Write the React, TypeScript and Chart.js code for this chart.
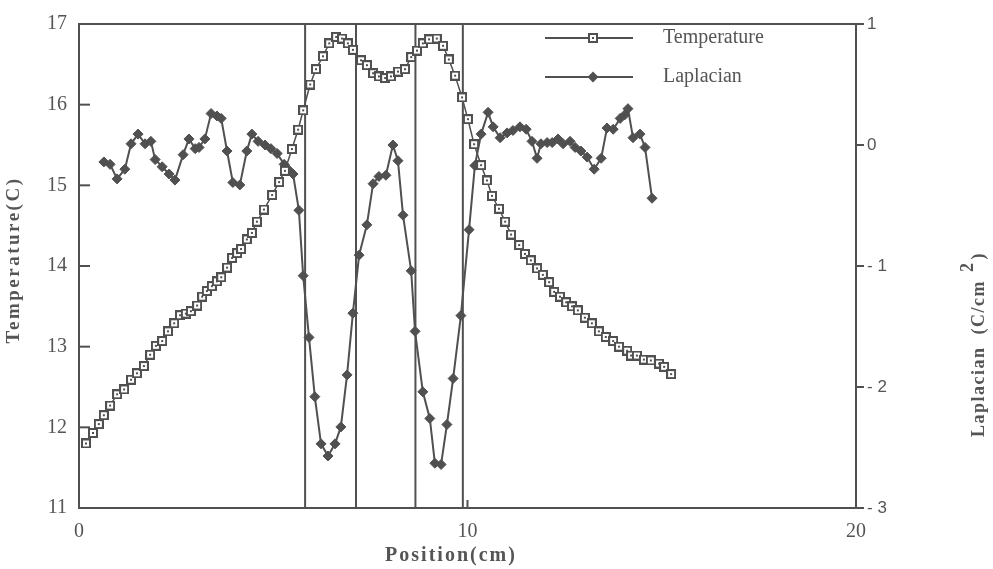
import { useEffect, useRef } from "react";
import { Chart, registerables } from "chart.js";

Chart.register(...registerables);

// ---- data ----
const tempX = [
  0.18, 0.36, 0.51, 0.64, 0.8, 0.98, 1.16, 1.34, 1.49, 1.67,
  1.83, 1.98, 2.14, 2.29, 2.45, 2.6, 2.75, 2.88, 3.04, 3.17,
  3.29, 3.42, 3.55, 3.66, 3.81, 3.94, 4.07, 4.17, 4.32, 4.45,
  4.58, 4.76, 4.97, 5.15, 5.3, 5.48, 5.64, 5.77, 5.95, 6.1,
  6.28, 6.44, 6.62, 6.77, 6.92, 7.05, 7.26, 7.41, 7.57, 7.72,
  7.88, 8.03, 8.21, 8.39, 8.55, 8.7, 8.85, 9.01, 9.21, 9.37,
  9.52, 9.68, 9.86, 10.01, 10.17, 10.35, 10.5, 10.63, 10.81, 10.97,
  11.12, 11.33, 11.48, 11.63, 11.79, 11.94, 12.1, 12.23, 12.38, 12.54,
  12.69, 12.84, 13.02, 13.2, 13.38, 13.56, 13.75, 13.9, 14.11, 14.21,
  14.36, 14.54, 14.72, 14.93, 15.06, 15.24,
];
const tempY = [
  11.8, 11.93, 12.04, 12.15, 12.27, 12.41, 12.47, 12.59, 12.67, 12.76,
  12.9, 13.01, 13.07, 13.19, 13.29, 13.39, 13.41, 13.44, 13.51, 13.62,
  13.69, 13.75, 13.81, 13.86, 13.98, 14.1, 14.16, 14.21, 14.33, 14.41,
  14.55, 14.7, 14.88, 15.04, 15.18, 15.45, 15.69, 15.93, 16.25, 16.44,
  16.6, 16.76, 16.84, 16.82, 16.76, 16.68, 16.55, 16.49, 16.39, 16.35,
  16.33, 16.35, 16.41, 16.44, 16.59, 16.67, 16.76, 16.81, 16.82, 16.73,
  16.56, 16.36, 16.09, 15.82, 15.51, 15.25, 15.06, 14.87, 14.71, 14.55,
  14.39, 14.26, 14.15, 14.07, 13.97, 13.89, 13.8, 13.68, 13.62, 13.55,
  13.5, 13.45, 13.36, 13.29, 13.19, 13.12, 13.07, 13.0, 12.95, 12.89,
  12.89, 12.84, 12.83, 12.79, 12.75, 12.66,
];
const lapX = [
  0.64, 0.8, 0.98, 1.18, 1.34, 1.52, 1.7, 1.85, 1.96, 2.14,
  2.32, 2.47, 2.68, 2.83, 2.99, 3.09, 3.24, 3.4, 3.55, 3.66,
  3.81, 3.96, 4.14, 4.32, 4.45, 4.61, 4.79, 4.94, 5.1, 5.28,
  5.38, 5.51, 5.66, 5.77, 5.92, 6.07, 6.23, 6.41, 6.59, 6.74,
  6.9, 7.05, 7.21, 7.41, 7.57, 7.72, 7.9, 8.08, 8.21, 8.34,
  8.55, 8.65, 8.85, 9.03, 9.16, 9.32, 9.47, 9.63, 9.83, 10.04,
  10.19, 10.35, 10.53, 10.66, 10.84, 11.02, 11.17, 11.35, 11.51, 11.66,
  11.79, 11.89, 12.05, 12.18, 12.33, 12.46, 12.64, 12.77, 12.92, 13.08,
  13.26, 13.44, 13.59, 13.75, 13.93, 14.05, 14.13, 14.26, 14.44, 14.57,
  14.75,
];
const lapY = [
  -0.14, -0.16, -0.28, -0.2, 0.01, 0.09, 0.01, 0.03, -0.12, -0.18,
  -0.24, -0.29, -0.08, 0.05, -0.03, -0.02, 0.05, 0.26, 0.24, 0.22,
  -0.05, -0.31, -0.33, -0.05, 0.09, 0.03, 0.0, -0.03, -0.07, -0.16,
  -0.2, -0.24, -0.54, -1.08, -1.59, -2.08, -2.47, -2.57, -2.47, -2.33,
  -1.9, -1.39, -0.91, -0.66, -0.32, -0.26, -0.25, 0.0, -0.13, -0.58,
  -1.04, -1.54, -2.04, -2.26, -2.63, -2.64, -2.31, -1.93, -1.41, -0.7,
  -0.17, 0.09, 0.27, 0.15, 0.06, 0.1, 0.12, 0.15, 0.13, 0.03,
  -0.11, 0.01, 0.02, 0.02, 0.05, 0.01, 0.03, -0.02, -0.05, -0.1,
  -0.2, -0.11, 0.14, 0.13, 0.22, 0.25, 0.3, 0.06, 0.09, -0.02,
  -0.44,
];
const dividerX = [5.82, 7.13, 8.66, 9.88];
const xTicks = [0, 10, 20];
const tempTicks = [11, 12, 13, 14, 15, 16, 17];
const lapTicks = [-3, -2, -1, 0, 1];
const legendLabels = ["Temperature", "Laplacian"];
const xTitle = "Position(cm)";
const yTitle = "Temperature(C)";
const y2TitleMain = "Laplacian  (C/cm";
const y2TitleSup = "2";
const y2TitleEnd = ")";

const INK = "#505050";
const TEXT = "#555555";

function makeSquareMarker(): HTMLCanvasElement {
  const m = document.createElement("canvas");
  m.width = 10;
  m.height = 10;
  const c = m.getContext("2d")!;
  c.fillStyle = "#ffffff";
  c.fillRect(1, 1, 8, 8);
  c.strokeStyle = INK;
  c.lineWidth = 2;
  c.strokeRect(1, 1, 8, 8);
  c.fillStyle = INK;
  c.fillRect(4, 4, 2, 2);
  return m;
}

export default function App() {
  const ref = useRef<HTMLCanvasElement | null>(null);

  useEffect(() => {
    document.body.style.margin = "0";
    const canvas = ref.current;
    if (!canvas) return;
    const marker = makeSquareMarker();

    const decor = {
      id: "decor",
      afterDraw(chart: any) {
        const { ctx, chartArea: a, scales } = chart;
        ctx.save();
        ctx.strokeStyle = INK;
        ctx.lineWidth = 2;
        ctx.strokeRect(a.left, a.top, a.right - a.left, a.bottom - a.top);
        const line = (x1: number, y1: number, x2: number, y2: number) => {
          ctx.beginPath();
          ctx.moveTo(x1, y1);
          ctx.lineTo(x2, y2);
          ctx.stroke();
        };
        for (const v of tempTicks) {
          const y = scales.y.getPixelForValue(v);
          line(a.left, y, a.left + 11, y);
        }
        for (const v of lapTicks) {
          const y = scales.y1.getPixelForValue(v);
          line(a.right, y, a.right + 8, y);
        }
        for (const v of xTicks) {
          const x = scales.x.getPixelForValue(v);
          line(x, a.bottom, x, a.bottom - 8);
        }

        // legend
        const lx1 = 545, lx2 = 633, lm = 593, tx = 663;
        const ly = [38, 77];
        ctx.lineWidth = 2;
        line(lx1, ly[0], lx2, ly[0]);
        ctx.drawImage(marker, lm - 5, ly[0] - 5);
        line(lx1, ly[1], lx2, ly[1]);
        ctx.fillStyle = INK;
        ctx.beginPath();
        ctx.moveTo(lm, ly[1] - 5.5);
        ctx.lineTo(lm + 5.5, ly[1]);
        ctx.lineTo(lm, ly[1] + 5.5);
        ctx.lineTo(lm - 5.5, ly[1]);
        ctx.closePath();
        ctx.fill();
        ctx.fillStyle = TEXT;
        ctx.font = "20px 'Liberation Serif'";
        ctx.textAlign = "left";
        ctx.textBaseline = "middle";
        ctx.fillText(legendLabels[0], tx, ly[0]);
        ctx.fillText(legendLabels[1], tx, ly[1]);

        // axis titles
        ctx.fillStyle = TEXT;
        ctx.textAlign = "center";
        ctx.textBaseline = "middle";
        (ctx as any).letterSpacing = "2px";
        ctx.font = "bold 20px 'Liberation Serif'";
        ctx.fillText(xTitle, 451, 556);

        ctx.save();
        ctx.translate(14, 260);
        ctx.rotate(-Math.PI / 2);
        (ctx as any).letterSpacing = "2.5px";
        ctx.font = "bold 19px 'Liberation Serif'";
        ctx.fillText(yTitle, 0, 0);
        ctx.restore();

        ctx.save();
        ctx.translate(984, 437);
        ctx.rotate(-Math.PI / 2);
        (ctx as any).letterSpacing = "1.5px";
        ctx.font = "bold 18px 'Liberation Serif'";
        ctx.textAlign = "left";
        ctx.textBaseline = "alphabetic";
        ctx.fillText(y2TitleMain, 0, 0);
        let w = ctx.measureText(y2TitleMain).width + 8;
        ctx.fillText(y2TitleSup, w, -11);
        w += ctx.measureText(y2TitleSup).width + 2;
        ctx.fillText(y2TitleEnd, w, 0);
        ctx.restore();

        ctx.restore();
      },
    };

    const dividerSets = dividerX.map((d) => ({
      label: "",
      data: [
        { x: d, y: tempTicks[0] },
        { x: d, y: tempTicks[tempTicks.length - 1] },
      ],
      borderColor: INK,
      borderWidth: 2,
      pointRadius: 0,
      yAxisID: "y",
    }));

    const chart = new Chart(canvas, {
      type: "line",
      data: {
        datasets: [
          {
            label: legendLabels[0],
            data: tempX.map((x, i) => ({ x, y: tempY[i] })),
            borderColor: INK,
            borderWidth: 1.5,
            pointStyle: marker as any,
            pointRadius: 5,
            yAxisID: "y",
          },
          {
            label: legendLabels[1],
            data: lapX.map((x, i) => ({ x, y: lapY[i] })),
            borderColor: INK,
            backgroundColor: INK,
            borderWidth: 2,
            pointStyle: "rectRot",
            pointRadius: 5,
            pointBorderWidth: 1,
            yAxisID: "y1",
          },
          ...dividerSets,
        ] as any,
      },
      options: {
        animation: false,
        responsive: false,
        events: [],
        layout: { padding: { top: 13, left: 0, right: 0, bottom: 0 } },
        plugins: { legend: { display: false }, tooltip: { enabled: false } },
        scales: {
          x: {
            type: "linear",
            min: 0,
            max: 20,
            grid: { display: false, drawTicks: false },
            border: { display: false },
            afterBuildTicks: (s: any) => {
              s.ticks = xTicks.map((v) => ({ value: v }));
            },
            afterFit: (s: any) => {
              s.height = 61;
            },
            ticks: {
              padding: 12,
              color: TEXT,
              font: { family: "'Liberation Serif'", size: 20 },
              maxRotation: 0,
            },
          },
          y: {
            type: "linear",
            position: "left",
            min: 11,
            max: 17,
            grid: { display: false, drawTicks: false },
            border: { display: false },
            afterBuildTicks: (s: any) => {
              s.ticks = tempTicks.map((v) => ({ value: v }));
            },
            afterFit: (s: any) => {
              s.width = 79;
            },
            ticks: {
              padding: 12,
              color: TEXT,
              font: { family: "'Liberation Serif'", size: 20 },
            },
          },
          y1: {
            type: "linear",
            position: "right",
            min: -3,
            max: 1,
            grid: { display: false, drawTicks: false },
            border: { display: false },
            afterBuildTicks: (s: any) => {
              s.ticks = lapTicks.map((v) => ({ value: v }));
            },
            afterFit: (s: any) => {
              s.width = 137;
            },
            ticks: {
              padding: 11,
              color: TEXT,
              font: { family: "'Liberation Sans'", size: 17 },
              callback: (v: any) => (Number(v) < 0 ? "- " + Math.abs(Number(v)) : String(v)),
            },
          },
        },
      },
      plugins: [decor],
    } as any);

    return () => chart.destroy();
  }, []);

  return (
    <div style={{ width: 993, height: 569, background: "#fff" }}>
      <canvas ref={ref} width={993} height={569} style={{ display: "block" }} />
    </div>
  );
}
